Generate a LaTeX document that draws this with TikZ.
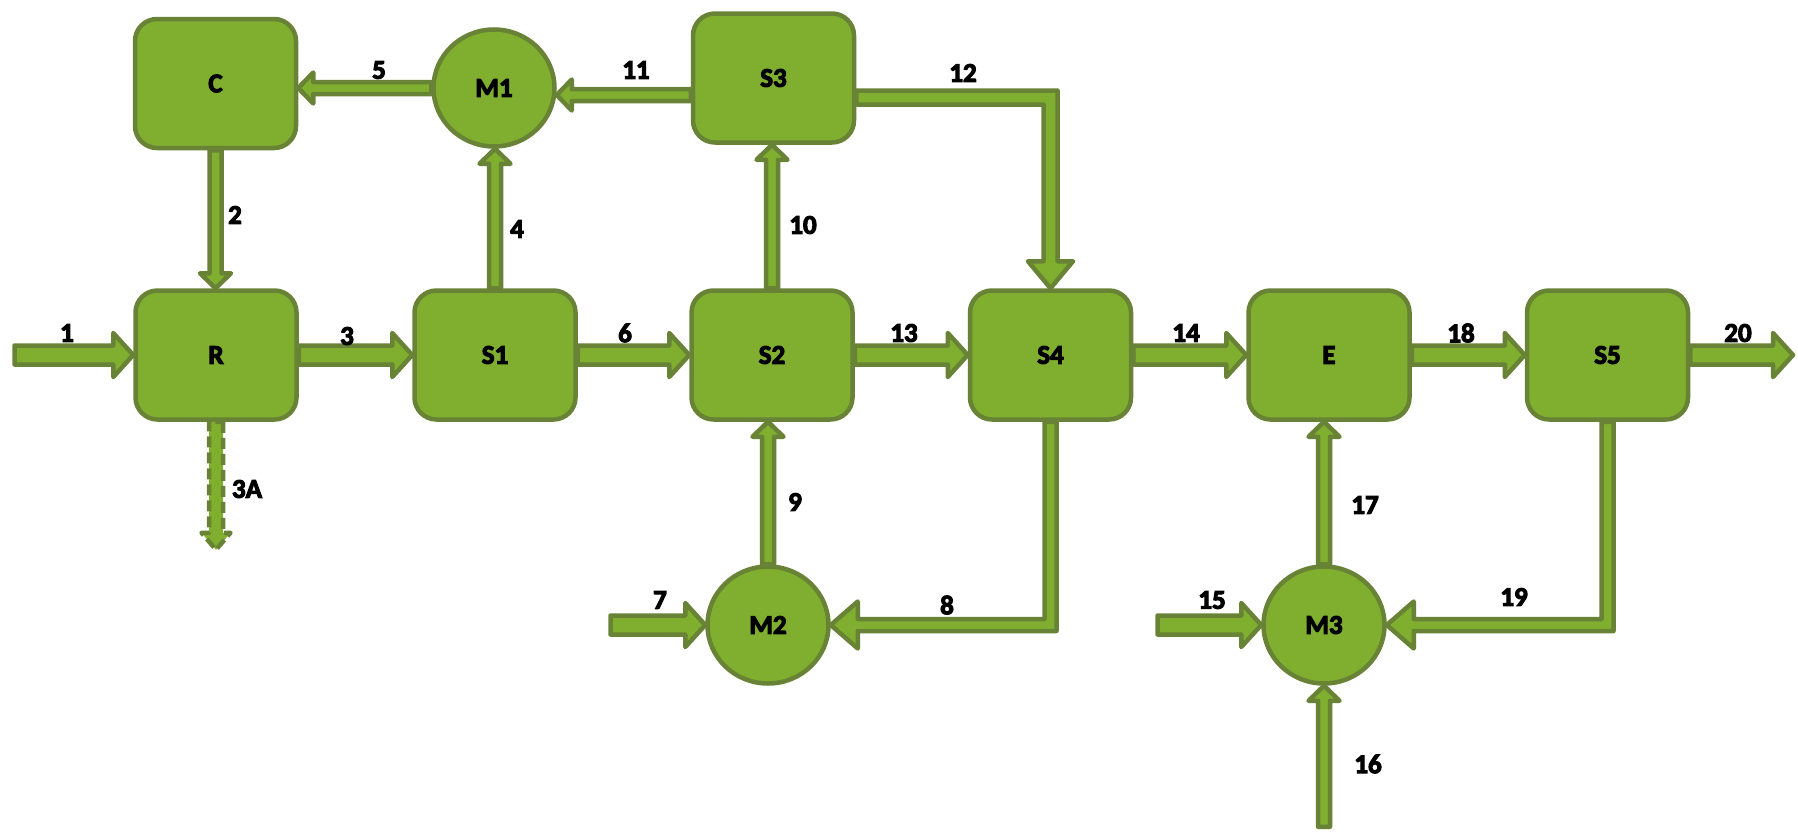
\documentclass[tikz,border=0pt]{standalone}
\usepackage{fontspec}
\setmainfont{Carlito}[BoldFeatures={FakeBold=4}]
\usetikzlibrary{calc,shapes.geometric}
\definecolor{gfill}{RGB}{128,175,48}
\definecolor{gline}{RGB}{104,130,54}
\newcommand\lbl{\fontsize{27}{30}\selectfont\bfseries}
% straight block arrow: [opts]{start}{end}{shaft half}{head half}{head length}
\newcommand\barrow[6][]{%
  \coordinate (ba-s) at (#2);
  \coordinate (ba-e) at (#3);
  \coordinate (ba-h) at ($(ba-e)!#6!(ba-s)$);
  \draw[blk,#1] ($(ba-s)!#4!90:(ba-e)$) -- ($(ba-h)!#4!90:(ba-e)$)
    -- ($(ba-h)!#5!90:(ba-e)$) -- (ba-e) -- ($(ba-h)!#5!-90:(ba-e)$)
    -- ($(ba-h)!#4!-90:(ba-e)$) -- ($(ba-s)!#4!-90:(ba-e)$) -- cycle;
}
\tikzset{
  blk/.style={draw=gline, fill=gfill, line width=4.5pt, line join=round},
  box/.style={draw=gline, fill=gfill, line width=4.5pt, rounded corners=22pt,
    minimum width=161pt, minimum height=129pt, font=\lbl},
  mix/.style={ellipse, draw=gline, fill=gfill, line width=4.5pt,
    minimum width=121pt, minimum height=117pt, inner sep=0pt, font=\lbl},
  num/.style={font=\lbl, inner sep=0pt},
}
\begin{document}
\begin{tikzpicture}[x=1pt,y=-1pt]
\useasboundingbox (0,0) rectangle (1798,835);
% nodes
\node[box] (C)  at (215.5,83.5) {C};
\node[mix] (M1) at (494,88) {M1};
\node[box] (S3) at (773.5,78) {S3};
\node[box] (R)  at (216,355) {R};
\node[box] (S1) at (495,355) {S1};
\node[box] (S2) at (772,355) {S2};
\node[box] (S4) at (1050.5,355) {S4};
\node[box] (E)  at (1329,355) {E};
\node[box] (S5) at (1607.5,355) {S5};
\node[mix] (M2) at (768,625) {M2};
\node[mix] (M3) at (1324,625) {M3};
% free ends
\coordinate (in1) at (14.5,355);
\coordinate (in7) at (610.5,625);
\coordinate (in15) at (1157.5,625);
\coordinate (in16) at ($(M3.south)+(0,141)$);
\coordinate (out20) at (1793,355);
\coordinate (out3A) at ($(R.south)+(0,128)$);
\coordinate (s3w) at ($(S3.west)+(0,17)$);
% main row (wide)
\barrow{in1}{R.west}{9.5pt}{22pt}{20pt}
\barrow{R.east}{S1.west}{9.5pt}{22pt}{20pt}
\barrow{S1.east}{S2.west}{9.5pt}{22pt}{20pt}
\barrow{S2.east}{S4.west}{9.5pt}{22pt}{20pt}
\barrow{S4.east}{E.west}{9.5pt}{22pt}{20pt}
\barrow{E.east}{S5.west}{9.5pt}{22pt}{20pt}
\barrow{S5.east}{out20}{9.5pt}{22pt}{20pt}
\barrow{in7}{M2.west}{9.5pt}{22pt}{20pt}
\barrow{in15}{M3.west}{9.5pt}{22pt}{20pt}
% thin arrows
\barrow{C.south}{C.south |- R.north}{6pt}{15.5pt}{15pt}
\barrow{S1.north}{S1.north |- M1.south}{6pt}{15.5pt}{15pt}
\barrow{M1.west}{M1.west -| C.east}{6pt}{15.5pt}{15pt}
\barrow{s3w}{s3w -| M1.east}{6pt}{15.5pt}{15pt}
\barrow{S2.north}{S2.north |- S3.south}{6pt}{15.5pt}{15pt}
\barrow{M2.north}{M2.north |- S2.south}{6pt}{15.5pt}{15pt}
\barrow{M3.north}{M3.north |- E.south}{6pt}{15.5pt}{15pt}
\barrow{in16}{M3.south}{6pt}{15.5pt}{15pt}
\barrow[dash pattern=on 11pt off 5pt]{R.south}{out3A}{7pt}{14.5pt}{17pt}
% elbow arrows
\draw[blk] let \p1=($(S3.east)+(0,19.5)$), \p2=(S4.north) in
  (\x1,\y1+7pt) -- (\x2+7pt,\y1+7pt) -- (\x2+7pt,\y2+27pt) -- (\x2+22.5pt,\y2+27pt)
  -- (\x2,\y2) -- (\x2-22.5pt,\y2+27pt) -- (\x2-7pt,\y2+27pt) -- (\x2-7pt,\y1-7pt)
  -- (\x1,\y1-7pt) -- cycle;
\draw[blk] let \p1=(S4.south), \p2=(M2.east) in
  (\x1-6pt,\y1) -- (\x1-6pt,\y2+6pt) -- (\x2+27pt,\y2+6pt) -- (\x2+27pt,\y2+23.5pt)
  -- (\x2,\y2) -- (\x2+27pt,\y2-23.5pt) -- (\x2+27pt,\y2-6pt) -- (\x1+6pt,\y2-6pt)
  -- (\x1+6pt,\y1) -- cycle;
\draw[blk] let \p1=(S5.south), \p2=(M3.east) in
  (\x1-6pt,\y1) -- (\x1-6pt,\y2+6pt) -- (\x2+27pt,\y2+6pt) -- (\x2+27pt,\y2+23.5pt)
  -- (\x2,\y2) -- (\x2+27pt,\y2-23.5pt) -- (\x2+27pt,\y2-6pt) -- (\x1+6pt,\y2-6pt)
  -- (\x1+6pt,\y1) -- cycle;
% labels
\node[num] (n1)  at (67,333) {1};
\node[num] (n2)  at (235,215) {2};
\node[num] (n3)  at (347,336) {3};
\node[num] (n3A) at (247,489) {3A};
\node[num] (n4)  at (517,229) {4};
\node[num] (n5)  at (379,70) {5};
\node[num] (n6)  at (625,333) {6};
\node[num] (n7)  at (660,600) {7};
\node[num] (n8)  at (947,605) {8};
\node[num] (n9)  at (795,502) {9};
\node[num] (n10) at (803,225) {10};
\node[num] (n11) at (636,70) {11};
\node[num] (n12) at (963,73) {12};
\node[num] (n13) at (904,333) {13};
\node[num] (n14) at (1186,333) {14};
\node[num] (n15) at (1212,600) {15};
\node[num] (n16) at (1368,764) {16};
\node[num] (n17) at (1365,505) {17};
\node[num] (n18) at (1461,333) {18};
\node[num] (n19) at (1514,597) {19};
\node[num] (n20) at (1738,333) {20};
\end{tikzpicture}
\end{document}
